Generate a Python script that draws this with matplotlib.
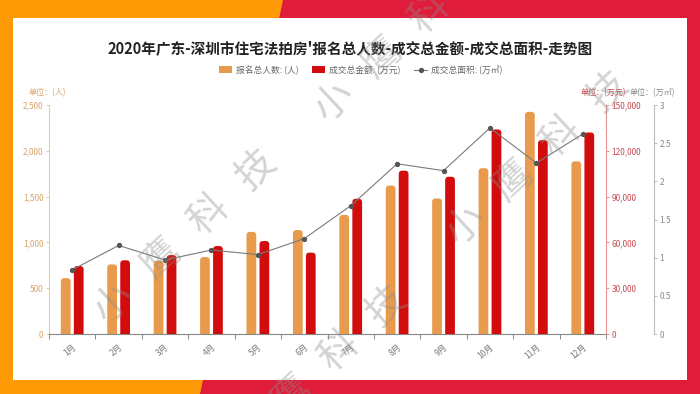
import matplotlib
matplotlib.use("Agg")
import matplotlib.pyplot as plt
from matplotlib.patches import Polygon, Rectangle, FancyBboxPatch, Patch
from matplotlib.lines import Line2D
import numpy as np

plt.rcParams['font.family'] = ['Noto Sans CJK SC', 'DejaVu Sans']

months = ['1月', '2月', '3月', '4月', '5月', '6月', '7月', '8月', '9月', '10月', '11月', '12月']
applicants = [610, 760, 800, 840, 1115, 1135, 1300, 1620, 1480, 1810, 2425, 1885]
amount = [44500, 48300, 51700, 57600, 60900, 53300, 88600, 107000, 103000, 134000, 127000, 132000]
area = [0.84, 1.16, 0.97, 1.10, 1.04, 1.25, 1.68, 2.23, 2.14, 2.70, 2.24, 2.62]

title = "2020年广东-深圳市住宅法拍房'报名总人数-成交总金额-成交总面积-走势图"
leg_labels = ['报名总人数: (人)', '成交总金额: (万元)', '成交总面积: (万㎡)']
unit_labels = ['单位：(人)', '单位：(万元)', '单位：(万㎡)']
left_ticks = [0, 500, 1000, 1500, 2000, 2500]
mid_ticks = [0, 30000, 60000, 90000, 120000, 150000]
right_ticks = [0, 0.5, 1, 1.5, 2, 2.5, 3]

C_ORANGE = '#e89b4c'
C_RED = '#d20c0c'
C_LINE = '#7a7a7a'
C_LEFT = '#d9a46c'
C_MID = '#c84a52'
C_RIGHT = '#8a8a8a'

W, H = 700, 394
fig = plt.figure(figsize=(7, 3.94), dpi=100)
fig.patch.set_facecolor('#fd9a06')

# background: red diagonal panel and white card
fig.add_artist(Polygon([(283 / W, 1), (1, 1), (1, 0), (200 / W, 0)], closed=True,
                       transform=fig.transFigure, facecolor='#e01c3b', edgecolor='none', zorder=-20))
fig.add_artist(Rectangle((13 / W, 1 - 380 / H), (687 - 13) / W, (380 - 18) / H,
                         transform=fig.transFigure, facecolor='white', edgecolor='none', zorder=-10))

L, R, B, T = 49, 606, 334, 105
ax = fig.add_axes([L / W, 1 - B / H, (R - L) / W, (B - T) / H])
ax.set_facecolor('none')
ax2 = ax.twinx()
ax3 = ax.twinx()
for a in (ax2, ax3):
    a.set_facecolor('none')

x = np.arange(len(months))
bw = 0.21
off = 0.14

b1 = ax.bar(x - off, applicants, width=bw, color=C_ORANGE, zorder=2)
b2 = ax2.bar(x + off, amount, width=bw, color=C_RED, zorder=2)
ax3.plot(x, area, color=C_LINE, lw=0.8, marker='o', ms=2.8, mfc='#555555', mec='#555555', zorder=5)

ax.set_xlim(-0.5, len(months) - 0.5)
ax.set_ylim(0, 2500)
ax2.set_ylim(0, 150000)
ax3.set_ylim(0, 3)

# round the top corners of the bars
axw_px = (R - L)
axh_px = (B - T)
rpx = 3.5
rx = rpx * (len(months)) / axw_px
for bars, top in ((b1, 2500), (b2, 150000)):
    ry = rpx * top / axh_px
    axis = bars.patches[0].axes
    for rect in list(bars.patches):
        x0, w, h = rect.get_x(), rect.get_width(), rect.get_height()
        p = FancyBboxPatch((x0, -ry), w, h + ry,
                           boxstyle=f"round,pad=0,rounding_size={rx}",
                           mutation_aspect=ry / rx,
                           facecolor=rect.get_facecolor(), edgecolor='none', zorder=2)
        axis.add_patch(p)
        rect.remove()

# x axis
ax.set_xticks(x)
ax.set_xticklabels(months, rotation=40, ha='right', rotation_mode='anchor',
                   fontsize=6, color='#777777')
ax.tick_params(axis='x', which='major', length=0, pad=6)
ax.set_xticks(np.arange(-0.5, len(months), 1), minor=True)
ax.tick_params(axis='x', which='minor', length=3.5, color='#888888', width=0.7)
ax.spines['bottom'].set_color('#888888')
ax.spines['bottom'].set_linewidth(0.8)
ax.spines['top'].set_visible(False)
ax.spines['right'].set_visible(False)

# left axis
ax.set_yticks(left_ticks)
ax.set_yticklabels([f'{v:,}' for v in left_ticks])
ax.spines['left'].set_color('#ecc9a0')
ax.spines['left'].set_linewidth(0.8)
ax.tick_params(axis='y', length=2.5, width=0.7, color='#ecc9a0', labelcolor=C_LEFT, labelsize=6, pad=1.5)

# middle (amount) axis
for s in ('top', 'left', 'bottom'):
    ax2.spines[s].set_visible(False)
    ax3.spines[s].set_visible(False)
ax2.spines['right'].set_color('#e79494')
ax2.spines['right'].set_linewidth(0.8)
ax2.set_yticks(mid_ticks)
ax2.set_yticklabels([f'{v:,}' for v in mid_ticks])
ax2.tick_params(axis='y', length=2.5, width=0.7, color='#e79494', labelcolor=C_MID, labelsize=6, pad=1.5)

# right (area) axis
ax3.spines['right'].set_position(('axes', (654 - L) / (R - L)))
ax3.spines['right'].set_color('#bbbbbb')
ax3.spines['right'].set_linewidth(0.8)
ax3.set_yticks(right_ticks)
ax3.set_yticklabels([f'{v:g}' for v in right_ticks])
ax3.tick_params(axis='y', length=2.5, width=0.7, color='#bbbbbb', labelcolor=C_RIGHT, labelsize=6, pad=1.5)

# unit labels
fig.text(47 / W, 1 - 93 / H, unit_labels[0], ha='center', va='center', fontsize=5.8, color=C_LEFT)
fig.text(603 / W, 1 - 93 / H, unit_labels[1], ha='center', va='center', fontsize=5.8, color=C_MID)
fig.text(652 / W, 1 - 93 / H, unit_labels[2], ha='center', va='center', fontsize=5.8, color=C_RIGHT)

# title
fig.text(0.5, 1 - 48 / H, title, ha='center', va='center', fontsize=10.5,
         fontweight='bold', color='#222222')

# legend
handles = [Patch(facecolor=C_ORANGE, edgecolor='none'),
           Patch(facecolor=C_RED, edgecolor='none'),
           Line2D([0], [0], color=C_LINE, lw=0.8, marker='o', ms=2.8, mfc='#555555', mec='#555555')]
fig.legend(handles, leg_labels, loc='center', bbox_to_anchor=(0.515, 1 - 70 / H), ncol=3,
           frameon=False, fontsize=6.3, labelcolor='#666666', handlelength=1.5,
           handleheight=0.8, handletextpad=0.4, columnspacing=1.6)

# watermark
for cx, cy, s in ((186, 238, '小   鹰   科   技'), (382, 58, '小   鹰   科'),
                  (538, 160, '小   鹰   科   技'), (340, 352, '鹰   科   技')):
    fig.text(cx / W, 1 - cy / H, s, rotation=43, rotation_mode='anchor',
             ha='center', va='center', fontsize=28, color='#8c8c8c', alpha=0.38, zorder=50)

fig.savefig('out.png', dpi=100)
